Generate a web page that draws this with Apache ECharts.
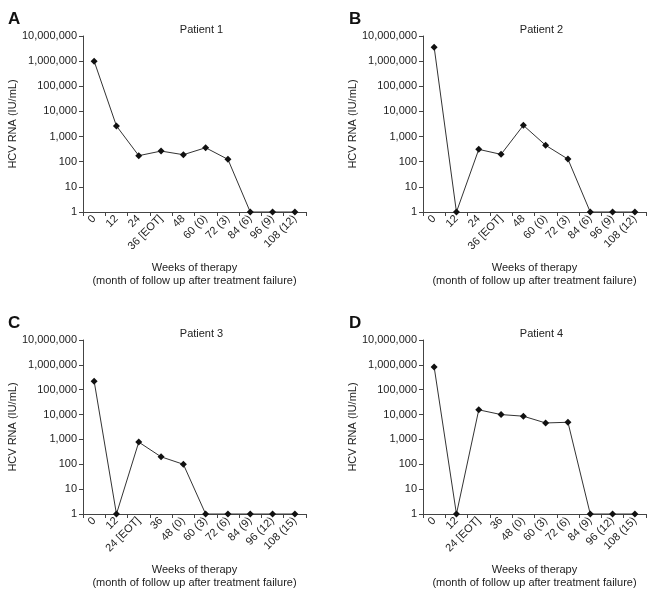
<!DOCTYPE html>
<html><head><meta charset="utf-8">
<script src="https://cdn.jsdelivr.net/npm/echarts@6/dist/echarts.min.js"></script>
<style>html,body{margin:0;padding:0;background:#fff}#c{width:655px;height:590px}</style>
</head><body><div id="c"></div>
<script>
const catsAB = ['0','12','24','36 [EOT]','48','60 (0)','72 (3)','84 (6)','96 (9)','108 (12)'];
const catsCD = ['0','12','24 [EOT]','36','48 (0)','60 (3)','72 (6)','84 (9)','96 (12)','108 (15)'];
const patient1 = [1000000, 2650, 174, 265, 190, 360, 124, 1, 1, 1];
const patient2 = [3600000, 1, 310, 196, 2800, 450, 127, 1, 1, 1];
const patient3 = [220000, 1, 780, 200, 100, 1, 1, 1, 1, 1];
const patient4 = [820000, 1, 15500, 10000, 8600, 4600, 4900, 1, 1, 1];
const titles = ['Patient 1','Patient 2','Patient 3','Patient 4'];
const letters = ['A','B','C','D'];

const panels = [
  {cats: catsAB, data: patient1, left: 83, top: 36},
  {cats: catsAB, data: patient2, left: 423, top: 36},
  {cats: catsCD, data: patient3, left: 83, top: 340},
  {cats: catsCD, data: patient4, left: 423, top: 340}
];
const W = 223, H = 176;
const font = 'Liberation Sans, Arial, sans-serif';
const axisCol = '#444', txtCol = '#222';

const option = {
  animation: false,
  backgroundColor: '#fff',
  title: [], grid: [], xAxis: [], yAxis: [], series: [], graphic: []
};
panels.forEach((p, i) => {
  option.grid.push({left: p.left, top: p.top, width: W, height: H});
  option.title.push({
    text: titles[i], left: p.left + W/2 + 2, top: p.top - 17, textAlign: 'center',
    textStyle: {fontFamily: font, fontSize: 11, fontWeight: 'normal', color: txtCol}
  });
  option.xAxis.push({
    type: 'category', gridIndex: i, data: p.cats, boundaryGap: true,
    axisLine: {lineStyle: {color: axisCol, width: 1}},
    axisTick: {show: true, length: 4, lineStyle: {color: axisCol}},
    axisLabel: {rotate: 45, margin: 5, interval: 0, fontFamily: font, fontSize: 11, color: txtCol},
    name: 'Weeks of therapy\n(month of follow up after treatment failure)',
    nameLocation: 'middle', nameGap: 49,
    nameTextStyle: {fontFamily: font, fontSize: 11, color: txtCol, lineHeight: 13}
  });
  option.yAxis.push({
    type: 'log', gridIndex: i, logBase: 10, min: 1, max: 10000000,
    axisLine: {show: true, lineStyle: {color: axisCol, width: 1}},
    axisTick: {show: true, length: 4, lineStyle: {color: axisCol}},
    splitLine: {show: false},
    axisLabel: {margin: 6, fontFamily: font, fontSize: 11, color: txtCol,
      formatter: v => Math.round(v).toLocaleString('en-US')},
    name: 'HCV RNA (IU/mL)', nameLocation: 'middle', nameGap: 59,
    nameTextStyle: {fontFamily: font, fontSize: 11, color: txtCol}
  });
  option.series.push({
    type: 'line', xAxisIndex: i, yAxisIndex: i, data: p.data,
    symbol: 'diamond', symbolSize: 7,
    itemStyle: {color: '#111'},
    lineStyle: {color: '#333', width: 1}
  });
  option.graphic.push({
    type: 'text', left: (i % 2 === 0 ? 8 : 349), top: (i < 2 ? 11 : 315),
    style: {text: letters[i], fontFamily: font, fontSize: 17, fontWeight: 'bold', fill: '#111'}
  });
});
const chart = echarts.init(document.getElementById('c'), null, {renderer: 'canvas'});
chart.setOption(option);
</script></body></html>
